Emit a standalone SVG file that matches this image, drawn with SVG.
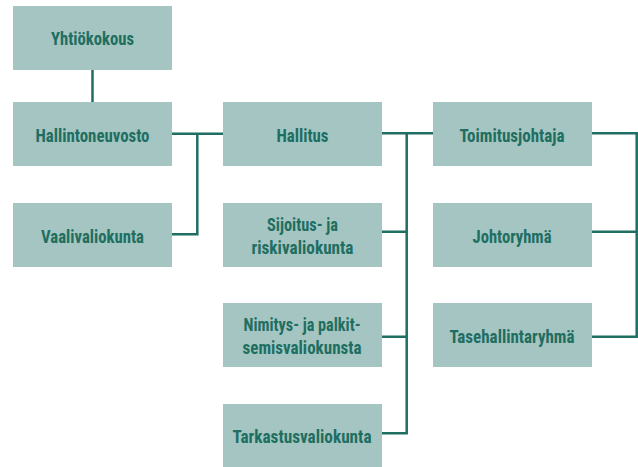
<svg xmlns="http://www.w3.org/2000/svg" width="638" height="467" viewBox="0 0 638 467">
<style>
.box{fill:#a4c5c1}
.lbl{font-family:"Liberation Sans Narrow","Roboto Condensed","DejaVu Sans Condensed","Liberation Sans",sans-serif;font-stretch:condensed;font-weight:bold;font-size:18.5px;fill:#1e6e62;text-anchor:middle}
.con{fill:none;stroke:#1e6e62;stroke-width:2.5}
</style>
<rect width="638" height="467" fill="#ffffff"/>
<g id="connectors">
<path class="con" d="M92.5 70V102"/>
<path class="con" d="M172 133.7H223M197.3 133.7V234.3H172"/>
<path class="con" d="M382 133.3H433M406.7 133.3V433.3H382M382 231.7H406.7M382 336.7H406.7"/>
<path class="con" d="M592 133.3H636.7V336.7H592M592 231.7H636.7"/>
</g>
<g id="yhtiokokous"><rect class="box" x="13" y="6" width="159" height="64"/><text class="lbl" x="92.5" y="44.5" textLength="83" lengthAdjust="spacingAndGlyphs">Yhtiökokous</text></g>
<g id="hallintoneuvosto"><rect class="box" x="13" y="102" width="159" height="64"/><text class="lbl" x="92.5" y="141.5" textLength="114" lengthAdjust="spacingAndGlyphs">Hallintoneuvosto</text></g>
<g id="vaalivaliokunta"><rect class="box" x="13" y="203" width="159" height="64"/><text class="lbl" x="92.5" y="242.5" textLength="103" lengthAdjust="spacingAndGlyphs">Vaalivaliokunta</text></g>
<g id="hallitus"><rect class="box" x="223" y="102" width="159" height="64"/><text class="lbl" x="302.5" y="141.5" textLength="52" lengthAdjust="spacingAndGlyphs">Hallitus</text></g>
<g id="sijoitus"><rect class="box" x="223" y="203" width="159" height="64"/><text class="lbl" x="302.5" y="231" textLength="71" lengthAdjust="spacingAndGlyphs">Sijoitus- ja</text><text class="lbl" x="302.5" y="253.5" textLength="102" lengthAdjust="spacingAndGlyphs">riskivaliokunta</text></g>
<g id="nimitys"><rect class="box" x="223" y="303" width="159" height="64"/><text class="lbl" x="302" y="331" textLength="117" lengthAdjust="spacingAndGlyphs">Nimitys- ja palkit-</text><text class="lbl" x="302" y="353.5" textLength="119" lengthAdjust="spacingAndGlyphs">semisvaliokunsta</text></g>
<g id="tarkastus"><rect class="box" x="223" y="404" width="159" height="63"/><text class="lbl" x="302" y="443" textLength="139" lengthAdjust="spacingAndGlyphs">Tarkastusvaliokunta</text></g>
<g id="toimitusjohtaja"><rect class="box" x="433" y="102" width="159" height="64"/><text class="lbl" x="512" y="141.5" textLength="105" lengthAdjust="spacingAndGlyphs">Toimitusjohtaja</text></g>
<g id="johtoryhma"><rect class="box" x="433" y="203" width="159" height="64"/><text class="lbl" x="512" y="242.5" textLength="79" lengthAdjust="spacingAndGlyphs">Johtoryhmä</text></g>
<g id="tasehallintaryhma"><rect class="box" x="433" y="303" width="159" height="64"/><text class="lbl" x="512" y="342.5" textLength="125" lengthAdjust="spacingAndGlyphs">Tasehallintaryhmä</text></g>
</svg>
